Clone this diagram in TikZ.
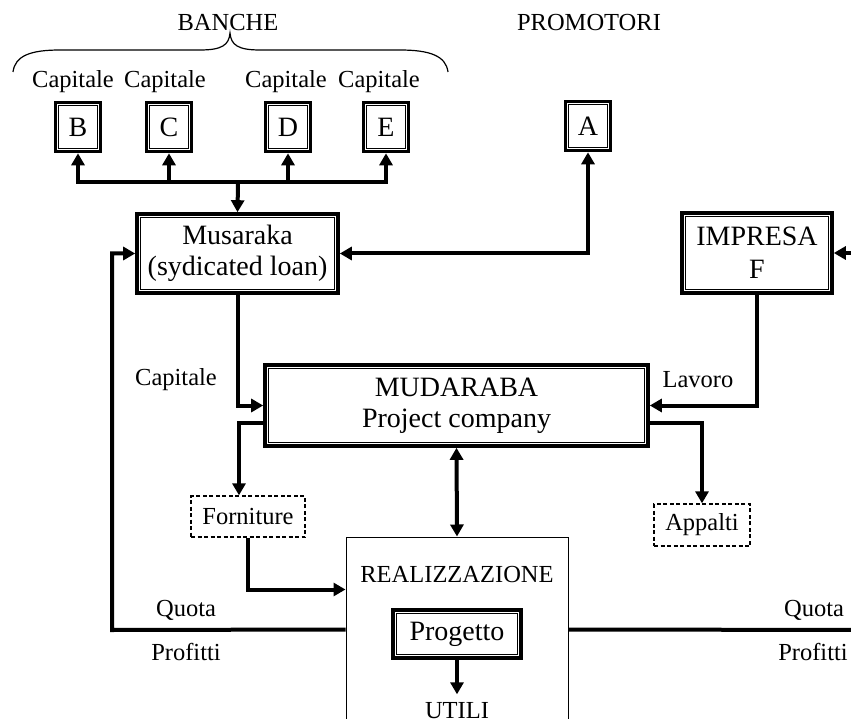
\documentclass[tikz,border=0pt]{standalone}
\usepackage{fontspec}
\setmainfont{Liberation Serif}
\usetikzlibrary{arrows.meta, calc}

\begin{document}
\begin{tikzpicture}[x=1pt, y=-1pt, font=\fontsize{24.5}{30}\selectfont,
    >={Triangle[length=12pt,width=13pt]},
    box/.style={draw, line width=3.6pt, fill=white, align=center, inner sep=0pt,
        path picture={\draw[line width=1pt] ([shift={(3.3pt,-3.3pt)}]path picture bounding box.north west)
            rectangle ([shift={(-3.3pt,3.3pt)}]path picture bounding box.south east);}},
    bigtext/.style={font=\fontsize{28}{31}\selectfont},
    dashbox/.style={draw, dash pattern=on 4pt off 2.5pt, line width=1.3pt, inner sep=0pt},
    conn/.style={line width=4pt}]
    \useasboundingbox (0,0) rectangle (851,719);

    % headings and brace
    \node (banche) at (228,23) {BANCHE};
    \node (promotori) at (589,23) {PROMOTORI};
    \draw[line width=1.2pt] (13,72) .. controls (15,56) and (30,50) .. (60,50) -- (200,50)
        .. controls (222,50) and (229,45) .. (230,33) .. controls (231,45) and (238,50) .. (260,50)
        -- (400,50) .. controls (430,50) and (446,56) .. (448,72);
    \node (capb) at (73,82) {Capitale};
    \node (capc) at (165,82) {Capitale};
    \node (capd) at (286,82) {Capitale};
    \node (cape) at (379,82) {Capitale};

    % banks and promoter
    \node[box, bigtext, minimum width=45pt, minimum height=49pt] (b) at (78,127) {B};
    \node[box, bigtext, minimum width=45pt, minimum height=49pt] (c) at (169,127) {C};
    \node[box, bigtext, minimum width=45pt, minimum height=49pt] (d) at (288,127) {D};
    \node[box, bigtext, minimum width=45pt, minimum height=49pt] (e) at (386,127) {E};
    \node[box, bigtext, minimum width=45pt, minimum height=49pt] (a) at (588,126) {A};

    % main boxes
    \node[box, bigtext, minimum width=201pt, minimum height=79pt] (musaraka) at (237.5,253.5) {Musaraka\\(sydicated loan)};
    \node[box, bigtext, minimum width=150pt, minimum height=80pt] (impresa) at (757,253) {IMPRESA\\[2pt]F};
    \node[box, bigtext, minimum width=383pt, minimum height=81pt] (mudaraba) at (456.5,405.5) {MUDARABA\\Project company};
    \node[dashbox, minimum width=114pt, minimum height=41pt] (forniture) at (248,516.5) {Forniture};
    \node[dashbox, minimum width=96pt, minimum height=42pt] (appalti) at (702,525) {Appalti};
    \node[draw, line width=1pt, minimum width=222pt, minimum height=223pt] (real) at (457,648.5) {};
    \node (realtxt) at (457,575) {REALIZZAZIONE};
    \node[box, bigtext, minimum width=128pt, minimum height=48pt] (progetto) at (457,634) {Progetto};
    \node (utili) at (457,711) {UTILI};

    % labels
    \node (capm) at (176,380) {Capitale};
    \node (lavoro) at (698,380) {Lavoro};
    \node (quotal) at (186,610) {Quota};
    \node (profl) at (186,652) {Profitti};
    \node (quotar) at (814,610) {Quota};
    \node (profr) at (813,652) {Profitti};

    \coordinate (bus) at (238,182);
    \coordinate (ql) at (112,630);
    \coordinate (qr) at (880,630);
    \coordinate (fr) at (880,253);

    % connectors
    \draw[conn, ->] (bus) -- (musaraka.north);
    \foreach \bank in {b,c,d,e}
        \draw[conn, ->] (bus) -| (\bank.south);
    \draw[conn, <->] (musaraka.east) -| (a.south);
    \draw[conn, ->] (musaraka.south) |- (mudaraba.west);
    \draw[conn, ->] (impresa.south) |- (mudaraba.east);
    \draw[conn, ->] (fr) -- (impresa.east);
    \draw[conn, ->] ($(mudaraba.west)+(0,17.5)$) -| ([xshift=-9pt]forniture.north);
    \draw[conn, ->] ($(mudaraba.east)+(0,17.5)$) -| (appalti.north);
    \draw[conn, ->] (forniture.south) |- ($(real.north west)+(0,53)$);
    \draw[conn, <->] (mudaraba.south) -- (real.north);
    \draw[conn, ->] ($(real.north west)+(0,93)$) -- (ql) |- (musaraka.west);
    \draw[conn] ($(real.north east)+(0,93)$) -- (qr);
    \draw[conn, ->, shorten >=5pt] (progetto.south) -- (utili.north);
\end{tikzpicture}
\end{document}
